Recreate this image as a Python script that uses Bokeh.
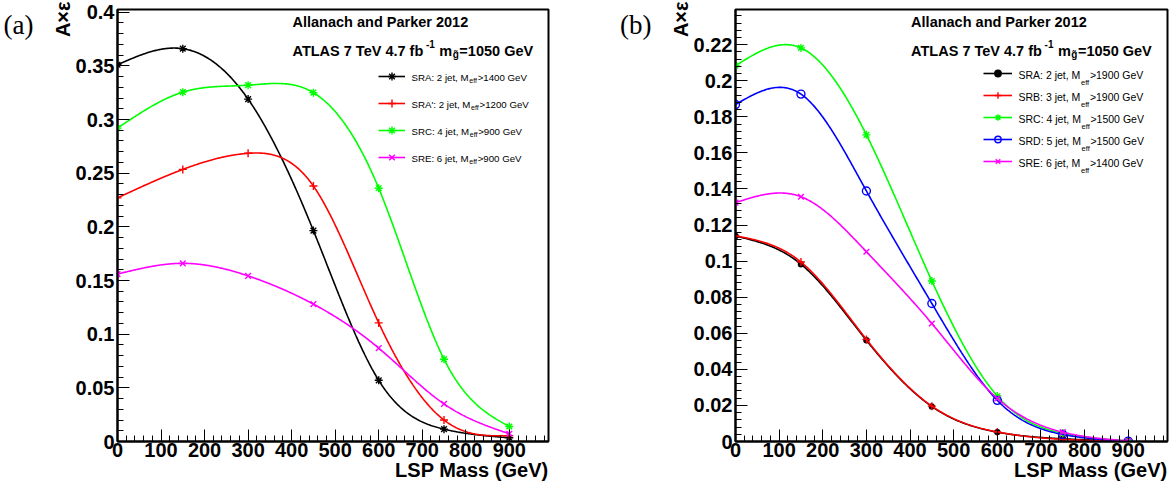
import numpy as np
from bokeh.plotting import figure
from bokeh.models import (Range1d, FixedTicker, CustomJSTickFormatter, Label,
                          Legend, LegendItem, LinearAxis, Title)
from bokeh.core.properties import value
from bokeh.layouts import row
from bokeh.embed import file_html
from bokeh.resources import INLINE

# ---------------- data ----------------
lsp_mass = [0, 150, 300, 450, 600, 750, 900]

# panel (a)
a_sra       = [0.351, 0.366, 0.319, 0.1965, 0.057, 0.0115, 0.0035]
a_sra_prime = [0.227, 0.2535, 0.2685, 0.238, 0.1105, 0.020, 0.0055]
a_src       = [0.292, 0.3255, 0.332, 0.325, 0.236, 0.0767, 0.014]
a_sre       = [0.156, 0.166, 0.1543, 0.128, 0.087, 0.035, 0.0072]

# panel (b)
b_sra = [0.1139, 0.0983, 0.0561, 0.0194, 0.0052, 0.0015, 0.0002]
b_srb = [0.1140, 0.0995, 0.0566, 0.0196, 0.0053, 0.0012, 0.0001]
b_src = [0.2083, 0.2182, 0.1700, 0.0890, 0.0252, 0.0046, 0.0003]
b_srd = [0.1868, 0.1926, 0.1389, 0.0765, 0.0228, 0.0039, 0.0002]
b_sre = [0.1324, 0.1357, 0.1052, 0.0654, 0.0239, 0.0052, 0.0003]

x_ticks = [0, 100, 200, 300, 400, 500, 600, 700, 800, 900]
a_y_ticks = [0, 0.05, 0.1, 0.15, 0.2, 0.25, 0.3, 0.35, 0.4]
b_y_ticks = [0, 0.02, 0.04, 0.06, 0.08, 0.1, 0.12, 0.14, 0.16, 0.18, 0.2, 0.22]

a_legend = [("SRA: 2 jet, M", "eff", ">1400 GeV"),
            ("SRA': 2 jet, M", "eff", ">1200 GeV"),
            ("SRC: 4 jet, M", "eff", ">900 GeV"),
            ("SRE: 6 jet, M", "eff", ">900 GeV")]
b_legend = [("SRA: 2 jet, M", "eff", ">1900 GeV"),
            ("SRB: 3 jet, M", "eff", ">1900 GeV"),
            ("SRC: 4 jet, M", "eff", ">1500 GeV"),
            ("SRD: 5 jet, M", "eff", ">1500 GeV"),
            ("SRE: 6 jet, M", "eff", ">1400 GeV")]

header_1 = "Allanach and Parker 2012"
header_2 = [("ATLAS 7 TeV 4.7 fb", "main"), ("-1", "sup"), ("m", "main_sp"),
            ("g\u0303", "sub"), ("=1050 GeV", "main")]
x_title = "LSP Mass (GeV)"
y_title = "A\u00d7\u03b5"

# ---------------- helpers ----------------
W_REG = {' ': 278, "'": 191, ',': 278, '-': 333, '.': 278, ':': 278, '=': 584,
         '>': 584, 'A': 667, 'B': 667, 'C': 722, 'D': 722, 'E': 667, 'G': 778,
         'M': 833, 'R': 722, 'S': 667, 'V': 667, 'e': 556, 'f': 278, 'j': 222,
         't': 278}
W_BOLD = {' ': 278, '-': 333, '.': 278, '=': 584, 'A': 722, 'G': 778, 'L': 611,
          'S': 667, 'T': 611, 'V': 667, 'b': 611, 'e': 556, 'f': 333, 'g': 611,
          'm': 889, '\u0303': 0}


def tw(s, table, size):
    return sum(table.get(c, 556) for c in s) * size / 1000.0


def smooth(x, y, n=451):
    """Natural cubic spline through the points (the ROOT 'C' draw option)."""
    x = np.asarray(x, float)
    y = np.asarray(y, float)
    m = len(x)
    h = np.diff(x)
    A = np.zeros((m, m))
    r = np.zeros(m)
    A[0, 0] = A[-1, -1] = 1.0
    for i in range(1, m - 1):
        A[i, i - 1] = h[i - 1]
        A[i, i] = 2 * (h[i - 1] + h[i])
        A[i, i + 1] = h[i]
        r[i] = 6 * ((y[i + 1] - y[i]) / h[i] - (y[i] - y[i - 1]) / h[i - 1])
    M = np.linalg.solve(A, r)
    xs = np.linspace(x[0], x[-1], n)
    k = np.clip(np.searchsorted(x, xs) - 1, 0, m - 2)
    t1 = x[k + 1] - xs
    t0 = xs - x[k]
    hk = h[k]
    ys = (M[k] * t1 ** 3 / (6 * hk) + M[k + 1] * t0 ** 3 / (6 * hk)
          + (y[k] / hk - M[k] * hk / 6) * t1 + (y[k + 1] / hk - M[k + 1] * hk / 6) * t0)
    return xs, ys


def lab(p, x, y, text, size, bold=False, align="left", font="Liberation Sans"):
    p.add_layout(Label(x=x, y=y, x_units="screen", y_units="screen", text=text,
                       text_font=font, text_font_size=f"{size}px",
                       text_font_style="bold" if bold else "normal",
                       text_align=align, text_baseline="alphabetic",
                       text_color="black"))


def make_panel(tag, width, bl, br, ymax, yticks, ystep, series, legend_text, cfg):
    p = figure(width=width, height=486, output_backend="svg", toolbar_location=None,
               x_range=Range1d(0, 990), y_range=Range1d(0, ymax),
               min_border_left=bl, min_border_right=br, min_border_top=9,
               min_border_bottom=45)
    p.background_fill_color = "white"
    p.border_fill_color = "white"
    p.outline_line_color = "black"
    p.outline_line_width = 2
    p.grid.visible = False

    p.xaxis.ticker = FixedTicker(ticks=x_ticks,
                                 minor_ticks=list(np.arange(0, 981, 20)))
    p.yaxis.ticker = FixedTicker(ticks=yticks,
                                 minor_ticks=list(np.round(np.arange(0, ymax, ystep), 4)))
    p.yaxis.formatter = CustomJSTickFormatter(
        code="return String(parseFloat(tick.toFixed(4)));")
    for ax in (p.xaxis[0], p.yaxis[0]):
        ax.major_tick_in = 12
        ax.major_tick_out = 0
        ax.minor_tick_in = 6
        ax.minor_tick_out = 0
        ax.axis_line_width = 2
        ax.major_tick_line_width = 1
        ax.minor_tick_line_width = 1
        ax.major_label_text_font = "Liberation Sans"
        ax.major_label_text_font_style = "bold"
        ax.major_label_text_font_size = "20px"
        ax.major_label_text_color = "black"
    p.xaxis.major_label_standoff = 1
    p.yaxis.major_label_standoff = 3

    # axis titles (ROOT puts them at the far end of each axis)
    p.add_layout(Title(text=x_title, align="right", standoff=-5,
                       text_font="Liberation Sans", text_font_style="bold",
                       text_font_size="20px", text_color="black"), "below")
    p.add_layout(Title(text=y_title, align="right", standoff=-2, offset=-8,
                       text_font="Liberation Sans", text_font_style="bold",
                       text_font_size="20px", text_color="black"), "left")

    # panel tag "(a)" / "(b)": the single label of a bare extra axis on the left
    p.extra_y_ranges = {"tag": Range1d(0, 432)}
    tag_axis = LinearAxis(y_range_name="tag", ticker=FixedTicker(ticks=[417]),
                          formatter=CustomJSTickFormatter(code=f"return '{tag}';"),
                          axis_line_color=None, major_tick_line_color=None,
                          minor_tick_line_color=None, major_tick_out=0,
                          minor_tick_out=0, major_tick_in=0, minor_tick_in=0,
                          major_label_standoff=17,
                          major_label_text_font="Liberation Serif",
                          major_label_text_font_style="normal",
                          major_label_text_font_size="27px",
                          major_label_text_color="black")
    p.add_layout(tag_axis, "left")

    items = []
    for vals, color, marker, size, fill in series:
        xs, ys = smooth(lsp_mass, vals)
        lr = p.line(xs, ys, line_color=color, line_width=1.6)
        sr = p.scatter(lsp_mass, vals, marker=marker, size=size, line_color=color,
                       fill_color=fill, line_width=1.4)
        items.append(LegendItem(label=value(""), renderers=[lr, sr]))

    leg = Legend(items=items, location=cfg["leg_loc"], glyph_width=cfg["gw"],
                 glyph_height=cfg["gh"], label_height=cfg["gh"], spacing=cfg["sp"],
                 padding=0, margin=0, label_standoff=0, label_width=0,
                 label_text_font_size="1px", border_line_color=None,
                 background_fill_alpha=0)
    p.add_layout(leg, "center")

    # legend texts with subscripts
    fs, sfs = cfg["leg_fs"], cfg["leg_sfs"]
    for (main, sub, rest), yc in zip(legend_text, cfg["rows"]):
        x0 = cfg["leg_tx"]
        lab(p, x0, yc + cfg["main_dy"], main, fs)
        x1 = x0 + tw(main, W_REG, fs) + 0.6
        lab(p, x1, yc + cfg["sub_dy"], sub, sfs)
        x2 = x1 + tw(sub, W_REG, sfs) + 0.6
        lab(p, x2, yc + cfg["main_dy"], rest, fs)

    # headers
    hx, hy1, hy2 = cfg["head"]
    lab(p, hx, hy1, header_1, 14.5, bold=True)
    x = hx
    for txt, kind in header_2:
        if kind == "main":
            lab(p, x, hy2, txt, 14.5, bold=True)
            x += tw(txt, W_BOLD, 14.5)
        elif kind == "main_sp":
            x += tw(" ", W_BOLD, 14.5)
            lab(p, x, hy2, txt, 14.5, bold=True)
            x += tw(txt, W_BOLD, 14.5)
        elif kind == "sup":
            lab(p, x + 0.5, hy2 + 7, txt, 10, bold=True)
            x += tw(txt, W_BOLD, 10) + 1
        else:
            lab(p, x + 0.5, hy2 - 3.5, txt, 10, bold=True)
            x += tw(txt, W_BOLD, 10) + 1
    return p


a_series = [(a_sra, "#000000", "asterisk", 8, None),
            (a_sra_prime, "#ff0000", "cross", 8, None),
            (a_src, "#00ff00", "asterisk", 8, None),
            (a_sre, "#ff00ff", "x", 8, None)]
b_series = [(b_sra, "#000000", "circle", 5, "#000000"),
            (b_srb, "#ff0000", "cross", 8, None),
            (b_src, "#00ff00", "asterisk", 8, None),
            (b_srd, "#0000ff", "circle", 8, None),
            (b_sre, "#ff00ff", "x", 8, None)]

a_cfg = dict(leg_loc=(261, 274), gw=27, gh=20, sp=7, rows=[365, 338, 311, 284],
             leg_tx=294, leg_fs=9.7, leg_sfs=7, main_dy=-0.5, sub_dy=-4,
             head=(175, 420, 390.5))
b_cfg = dict(leg_loc=(248, 272), gw=29, gh=16, sp=6, rows=[368, 346, 324, 302, 280],
             leg_tx=283, leg_fs=10.5, leg_sfs=7.5, main_dy=-1.7, sub_dy=-9,
             head=(175.6, 420, 390.5))

pa = make_panel("(a)", 600, 116, 52, 0.4025, a_y_ticks, 0.01, a_series, a_legend, a_cfg)
pb = make_panel("(b)", 572, 135, 5, 0.2395, b_y_ticks, 0.004, b_series, b_legend, b_cfg)

layout = row(pa, pb)
open("out.html", "w").write(file_html(layout, INLINE))
